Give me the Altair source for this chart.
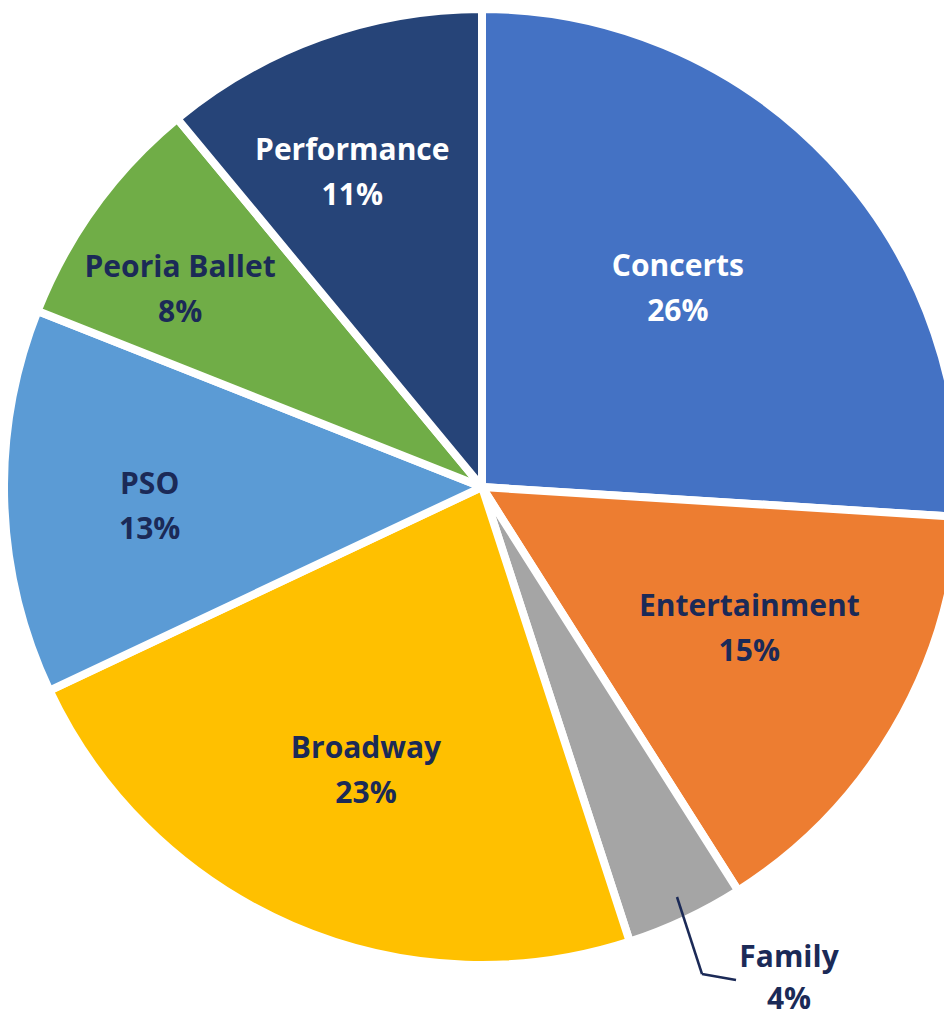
import altair as alt
import pandas as pd

categories = ["Concerts", "Entertainment", "Family", "Broadway", "PSO", "Peoria Ballet", "Performance"]
shares = [26, 15, 4, 23, 13, 8, 11]
slice_colors = ["#4472C4", "#ED7D31", "#A5A5A5", "#FFC000", "#5B9BD5", "#70AD47", "#264478"]
text_colors = ["#FFFFFF", "#1B2A57", "#1B2A57", "#1B2A57", "#1B2A57", "#1B2A57", "#FFFFFF"]

df = pd.DataFrame({
    "category": categories,
    "share": shares,
    "order": list(range(len(categories))),
    "tcolor": text_colors,
})
df["label"] = df["category"] + "\n" + df["share"].astype(str) + "%"

# label placement (style): radius in px, angular nudge in degrees
label_layout = {
    "Concerts": (278, -2.0),
    "Entertainment": (303, -2.5),
    "Broadway": (307, -1.2),
    "PSO": (333, -1.8),
    "Peoria Ballet": (360, -3.0),
    "Performance": (339, -2.7),
}

CX, CY = 474, 479
NAVY = "#1B2A57"
FONT = "Open Sans"
FS = 30
LH = 45

base = alt.Chart(df)

pie = base.mark_arc(outerRadius=478, stroke="white", strokeWidth=8).encode(
    theta=alt.Theta("share:Q", stack=True, scale=alt.Scale(domain=[0, 100])),
    color=alt.Color("category:N", scale=alt.Scale(domain=categories, range=slice_colors), legend=None),
    order=alt.Order("order:Q"),
    x=alt.value(CX),
    y=alt.value(CY),
)

def slice_label(name, radius, nudge_deg):
    return base.transform_window(
        cum="sum(share)", sort=[alt.SortField("order")]
    ).transform_calculate(
        mid=f"datum.cum - datum.share / 2 + ({nudge_deg} / 3.6)"
    ).transform_filter(
        alt.datum.category == name
    ).mark_text(
        font=FONT, fontSize=FS, fontWeight="bold", lineBreak="\n", lineHeight=LH,
        align="center", baseline="middle", radius=radius, dy=-LH / 2,
    ).encode(
        theta=alt.Theta("mid:Q", stack=None, scale=alt.Scale(domain=[0, 100])),
        text="label:N",
        color=alt.Color("tcolor:N", scale=None),
        x=alt.value(CX),
        y=alt.value(CY),
    )

labels = [slice_label(n, r, d) for n, (r, d) in label_layout.items()]

family_label = base.transform_filter(alt.datum.category == "Family").mark_text(
    font=FONT, fontSize=FS, fontWeight="bold", lineBreak="\n", lineHeight=42,
    align="center", baseline="middle", color=NAVY,
).encode(text="label:N", x=alt.value(781), y=alt.value(950))

dummy = alt.Chart(pd.DataFrame({"k": [0]}))
lead1 = dummy.mark_rule(color=NAVY, strokeWidth=2.5).encode(
    x=alt.value(669), y=alt.value(889), x2=alt.value(694), y2=alt.value(966))
lead2 = dummy.mark_rule(color=NAVY, strokeWidth=2.5).encode(
    x=alt.value(694), y=alt.value(966), x2=alt.value(728), y2=alt.value(972))

chart = alt.layer(pie, *labels, lead1, lead2, family_label).resolve_scale(
    color="independent"
).properties(
    width=936, height=1012, autosize=alt.AutoSizeParams(type="none"), padding=0
).configure_view(stroke=None)

chart.save("out.html", embed_options={"renderer": "svg", "actions": False})
